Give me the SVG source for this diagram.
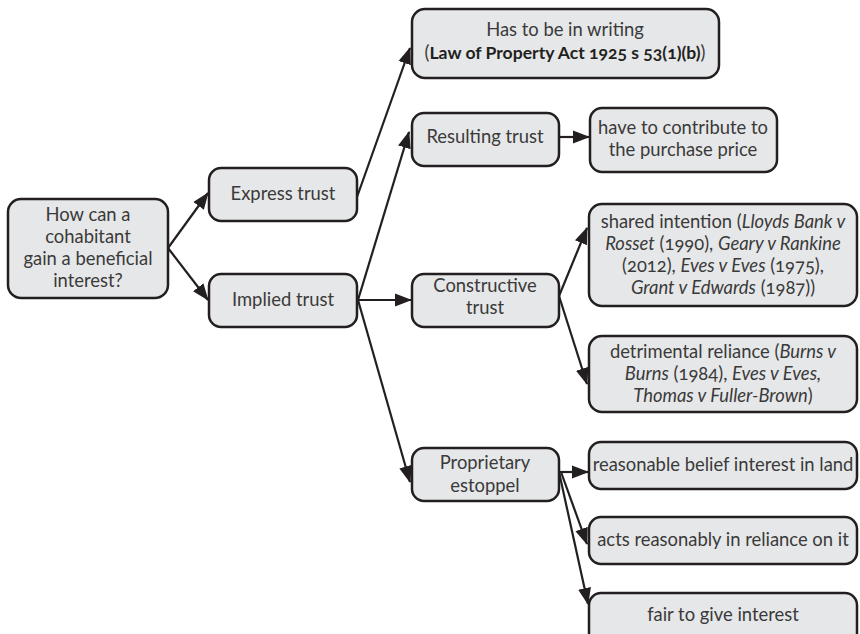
<svg xmlns="http://www.w3.org/2000/svg" width="860" height="634" viewBox="0 0 860 634">
  <defs>
    <marker id="arrow" markerUnits="userSpaceOnUse" markerWidth="18" markerHeight="14" refX="16" refY="7" orient="auto">
      <path d="M0,0.5 L17,7 L0,13.5 Z" fill="#231f20"/>
    </marker>
    <style>
      .box { fill: #e6e7e8; stroke: #231f20; stroke-width: 2.5; }
      .lbl { font-family: Lato, "Open Sans", "Liberation Sans", sans-serif; font-size: 18.4px; fill: #3a3a3a; text-anchor: middle; font-variant-numeric: oldstyle-nums; }
      .it { font-style: italic; }
      .b { font-weight: bold; fill: #231f20; font-size: 17.6px; }
      .conn { stroke: #231f20; stroke-width: 2.2; fill: none; marker-end: url(#arrow); }
    </style>
  </defs>

  <rect width="860" height="634" fill="#ffffff"/>

  <!-- connectors -->
  <g id="connectors">
    <line class="conn" x1="168" y1="248" x2="208" y2="193"/>
    <line class="conn" x1="168" y1="248" x2="208" y2="300"/>
    <line class="conn" x1="357" y1="197" x2="410" y2="48"/>
    <line class="conn" x1="358" y1="300" x2="409" y2="132"/>
    <line class="conn" x1="358" y1="300" x2="411" y2="300"/>
    <line class="conn" x1="358" y1="300" x2="410" y2="482"/>
    <line class="conn" x1="559" y1="137" x2="589" y2="137"/>
    <line class="conn" x1="559" y1="296" x2="587" y2="228"/>
    <line class="conn" x1="559" y1="296" x2="587" y2="384"/>
    <line class="conn" x1="559" y1="472" x2="588" y2="472"/>
    <line class="conn" x1="561" y1="472" x2="587" y2="544"/>
    <line class="conn" x1="559" y1="472" x2="588" y2="604"/>
  </g>

  <g id="root">
    <rect class="box" x="8" y="199" width="160" height="99" rx="13"/>
    <text class="lbl" x="88" y="221">How can a</text>
    <text class="lbl" x="88" y="243">cohabitant</text>
    <text class="lbl" x="88" y="265">gain a beneficial</text>
    <text class="lbl" x="88" y="287">interest?</text>
  </g>

  <g id="express-trust">
    <rect class="box" x="209" y="168" width="148" height="53" rx="12"/>
    <text class="lbl" x="283" y="200">Express trust</text>
  </g>

  <g id="implied-trust">
    <rect class="box" x="209" y="274" width="148" height="53" rx="12"/>
    <text class="lbl" x="283" y="306">Implied trust</text>
  </g>

  <g id="writing">
    <rect class="box" x="412" y="9" width="307" height="69" rx="13"/>
    <text class="lbl" x="565" y="36">Has to be in writing</text>
    <text class="lbl" x="565" y="59">(<tspan class="b">Law of Property Act 1925 s 53(1)(b)</tspan>)</text>
  </g>

  <g id="resulting-trust">
    <rect class="box" x="412" y="113" width="147" height="53" rx="12"/>
    <text class="lbl" x="485" y="143">Resulting trust</text>
  </g>

  <g id="contribute">
    <rect class="box" x="590" y="108" width="187" height="64" rx="12"/>
    <text class="lbl" x="683" y="134">have to contribute to</text>
    <text class="lbl" x="683" y="156">the purchase price</text>
  </g>

  <g id="constructive-trust">
    <rect class="box" x="412" y="274" width="147" height="53" rx="12"/>
    <text class="lbl" x="485" y="292">Constructive</text>
    <text class="lbl" x="485" y="314">trust</text>
  </g>

  <g id="shared-intention">
    <rect class="box" x="589" y="204" width="268" height="102" rx="13"/>
    <text class="lbl" x="723" y="228">shared intention (<tspan class="it">Lloyds Bank v</tspan></text>
    <text class="lbl" x="723" y="250"><tspan class="it">Rosset</tspan> (1990),  <tspan class="it">Geary v Rankine</tspan></text>
    <text class="lbl" x="723" y="272">(2012),  <tspan class="it">Eves v Eves</tspan> (1975),</text>
    <text class="lbl" x="723" y="294"><tspan class="it">Grant v Edwards</tspan> (1987))</text>
  </g>

  <g id="detrimental-reliance">
    <rect class="box" x="589" y="336" width="268" height="76" rx="13"/>
    <text class="lbl" x="723" y="358">detrimental reliance (<tspan class="it">Burns v</tspan></text>
    <text class="lbl" x="723" y="380"><tspan class="it">Burns</tspan> (1984), <tspan class="it">Eves v Eves,</tspan></text>
    <text class="lbl" x="723" y="402"><tspan class="it">Thomas v Fuller-Brown</tspan>)</text>
  </g>

  <g id="proprietary-estoppel">
    <rect class="box" x="412" y="448" width="147" height="53" rx="12"/>
    <text class="lbl" x="485" y="469">Proprietary</text>
    <text class="lbl" x="485" y="492">estoppel</text>
  </g>

  <g id="reasonable-belief">
    <rect class="box" x="589" y="442" width="268" height="47" rx="12"/>
    <text class="lbl" x="723" y="471">reasonable belief interest in land</text>
  </g>

  <g id="acts-reasonably">
    <rect class="box" x="589" y="517" width="268" height="47" rx="12"/>
    <text class="lbl" x="723" y="546">acts reasonably in reliance on it</text>
  </g>

  <g id="fair-interest">
    <rect class="box" x="589" y="593" width="268" height="52" rx="12"/>
    <text class="lbl" x="723" y="621">fair to give interest</text>
  </g>
</svg>
